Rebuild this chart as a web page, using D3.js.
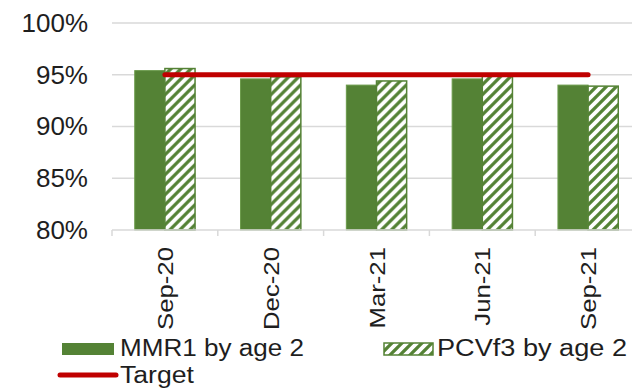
<!DOCTYPE html>
<html>
<head>
<meta charset="utf-8">
<script src="https://cdn.jsdelivr.net/npm/d3@7"></script>
<style>
  html, body { margin: 0; padding: 0; background: #fff; }
  svg { display: block; font-family: "Liberation Sans", Arial, sans-serif; }
</style>
</head>
<body>
<svg id="chart" width="632" height="392"></svg>
<script>
// Quarterly immunisation coverage
const quarters = ["Sep-20", "Dec-20", "Mar-21", "Jun-21", "Sep-21"];
const mmr1 = [0.954, 0.946, 0.940, 0.946, 0.940];
const pcvf3 = [0.956, 0.948, 0.944, 0.949, 0.939];
const target = [0.95, 0.95, 0.95, 0.95, 0.95];
const yTicks = [0.80, 0.85, 0.90, 0.95, 1.00];
const seriesNames = ["MMR1 by age 2", "PCVf3 by age 2", "Target"];

const green = "#548235";
const red = "#C00000";
const grid = "#d9d9d9";
const ink = "#1e1e1e";

const svg = d3.select("#chart");
const plotL = 112, plotR = 641, plotT = 23, plotB = 230;

const x = d3.scaleBand().domain(quarters).range([plotL, plotR])
  .paddingInner(0.43).paddingOuter(0.215);
const xSub = d3.scaleBand().domain([0, 1]).range([0, x.bandwidth()]);
const y = d3.scaleLinear().domain([0.80, 1.00]).range([plotB, plotT]);

// wide upward-diagonal hatch for the PCV series
const defs = svg.append("defs");
const P = 10;
const pat = defs.append("pattern").attr("id", "hatch")
  .attr("patternUnits", "userSpaceOnUse").attr("width", P).attr("height", P);
pat.append("rect").attr("width", P).attr("height", P).attr("fill", green);
pat.append("path").attr("d", `M-3,3 L3,-3 M0,${P} L${P},0 M${P - 3},${P + 3} L${P + 3},${P - 3}`)
  .attr("stroke", "#fff").attr("stroke-width", 3.8);

// gridlines
svg.append("g").selectAll("line").data(yTicks.slice(1)).join("line")
  .attr("x1", plotL).attr("x2", 632)
  .attr("y1", d => y(d)).attr("y2", d => y(d))
  .attr("stroke", grid).attr("stroke-width", 1.5);

// y axis labels
const yAxis = d3.axisLeft(y).tickValues(yTicks).tickFormat(d3.format(".0%")).tickSize(0).tickPadding(24);
const gy = svg.append("g").attr("transform", `translate(${plotL},0)`).call(yAxis);
gy.select(".domain").remove();
gy.selectAll("text").attr("font-size", 26).attr("fill", ink)
  .attr("font-family", "Liberation Sans, Arial, sans-serif");

// bars
const groups = svg.append("g").selectAll("g").data(quarters).join("g")
  .attr("transform", d => `translate(${x(d)},0)`);
groups.append("rect")
  .attr("x", xSub(0)).attr("width", xSub.bandwidth())
  .attr("y", (d, i) => y(mmr1[i])).attr("height", (d, i) => y(0.80) - y(mmr1[i]))
  .attr("fill", green).attr("stroke", "#6a9a4a").attr("stroke-width", 1);
groups.append("rect")
  .attr("x", xSub(1)).attr("width", xSub.bandwidth())
  .attr("y", (d, i) => y(pcvf3[i])).attr("height", (d, i) => y(0.80) - y(pcvf3[i]))
  .attr("fill", "url(#hatch)").attr("stroke", green).attr("stroke-width", 1.5);

// category axis
const xAxisY = plotB;
svg.append("line").attr("x1", plotL).attr("x2", 632)
  .attr("y1", xAxisY).attr("y2", xAxisY).attr("stroke", grid).attr("stroke-width", 1.5);
const bounds = quarters.map(q => x(q) - x.step() * x.paddingInner() / 2);
bounds[0] = plotL;
svg.append("g").selectAll("line").data(bounds).join("line")
  .attr("x1", d => d).attr("x2", d => d)
  .attr("y1", xAxisY).attr("y2", xAxisY + 6)
  .attr("stroke", grid).attr("stroke-width", 1.5);
svg.append("g").selectAll("text").data(quarters).join("text")
  .attr("transform", d => `translate(${x(d) + x.bandwidth() / 2},${xAxisY + 17}) rotate(-90) scale(1.12,1)`)
  .attr("text-anchor", "end").attr("dy", "0.35em")
  .attr("font-size", 23).attr("fill", ink)
  .text(d => d);

// target line
const line = d3.line().x((d, i) => x(quarters[i]) + x.bandwidth() / 2).y(d => y(d));
svg.append("path").datum(target).attr("d", line)
  .attr("fill", "none").attr("stroke", red).attr("stroke-width", 5)
  .attr("stroke-linecap", "round");

// legend
const lg = svg.append("g");
lg.append("rect").attr("x", 62).attr("y", 343).attr("width", 52).attr("height", 12).attr("fill", green);
lg.append("text").attr("x", 120).attr("y", 356).attr("font-size", 23).attr("fill", ink)
  .attr("textLength", 184).attr("lengthAdjust", "spacingAndGlyphs").text(seriesNames[0]);
lg.append("rect").attr("x", 384).attr("y", 343).attr("width", 49).attr("height", 12)
  .attr("fill", "url(#hatch)").attr("stroke", green).attr("stroke-width", 1.5);
lg.append("text").attr("x", 437).attr("y", 356).attr("font-size", 23).attr("fill", ink)
  .attr("textLength", 190).attr("lengthAdjust", "spacingAndGlyphs").text(seriesNames[1]);
lg.append("line").attr("x1", 60).attr("x2", 116).attr("y1", 375).attr("y2", 375)
  .attr("stroke", red).attr("stroke-width", 5).attr("stroke-linecap", "round");
lg.append("text").attr("x", 120).attr("y", 383).attr("font-size", 23).attr("fill", ink)
  .attr("textLength", 74).attr("lengthAdjust", "spacingAndGlyphs").text(seriesNames[2]);
</script>
</body>
</html>
